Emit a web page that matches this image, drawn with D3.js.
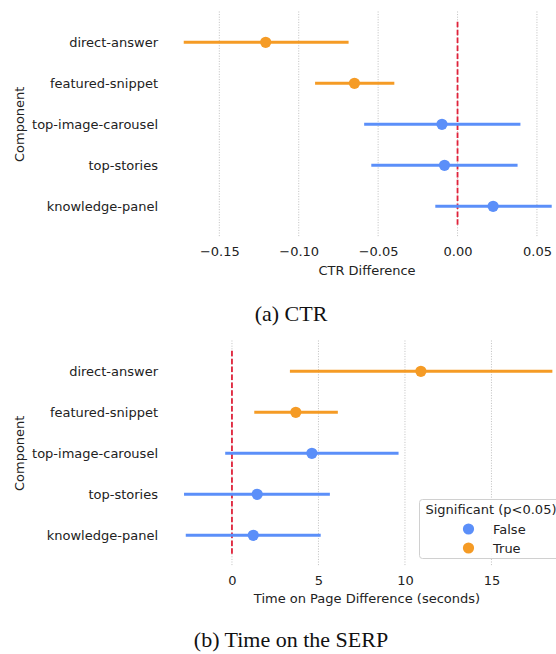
<!DOCTYPE html>
<html>
<head>
<meta charset="utf-8">
<script src="https://cdn.jsdelivr.net/npm/d3@7"></script>
<style>
  body { margin: 0; background: #fff; }
  svg { display: block; }
</style>
</head>
<body>
<svg id="chart"></svg>
<script>
// data
const components = ["direct-answer", "featured-snippet", "top-image-carousel", "top-stories", "knowledge-panel"];

const ctrEstimate = [-0.1208, -0.0649, -0.0098, -0.0082, 0.0224];
const ctrLower = [-0.1724, -0.0897, -0.0588, -0.0543, -0.0140];
const ctrUpper = [-0.0686, -0.0398, 0.0396, 0.0378, 0.0593];
const ctrSignificant = [true, true, false, false, false];
const ctrTicks = [-0.15, -0.10, -0.05, 0.00, 0.05];

const timeEstimate = [10.92, 3.69, 4.62, 1.46, 1.23];
const timeLower = [3.35, 1.29, -0.39, -2.77, -2.67];
const timeUpper = [18.52, 6.12, 9.63, 5.66, 5.13];
const timeSignificant = [true, true, false, false, false];
const timeTicks = [0, 5, 10, 15];

const legendTitle = "Significant (p<0.05)";
const legendLabels = ["False", "True"];

const width = 556;
const height = 654;
const colorFalse = "#5b8ff9";
const colorTrue = "#f59b25";
const font = "'DejaVu Sans', sans-serif";

const svg = d3.select("#chart")
    .attr("width", width)
    .attr("height", height);

const color = d3.scaleOrdinal()
    .domain(legendLabels)
    .range([colorFalse, colorTrue]);

function drawPanel(cfg) {
    const g = svg.append("g").attr("transform", `translate(0, ${cfg.top})`);

    const x = d3.scaleLinear().domain(cfg.domain).range([165, 556]);
    const y = d3.scalePoint().domain(components).range([42.3, 206.3]);
    const step = y.step();

    // dotted vertical grid
    g.append("g")
        .selectAll("line")
        .data(cfg.ticks)
        .enter()
        .append("line")
        .attr("x1", d => x(d))
        .attr("x2", d => x(d))
        .attr("y1", 11.5)
        .attr("y2", 237)
        .attr("stroke", "#b8b8b8")
        .attr("stroke-width", 0.9)
        .attr("stroke-dasharray", "1,1.6");

    // zero line
    g.append("line")
        .attr("x1", x(0))
        .attr("x2", x(0))
        .attr("y1", y(components[0]) - step / 2)
        .attr("y2", y(components[components.length - 1]) + step / 2)
        .attr("stroke", "#e0223a")
        .attr("stroke-width", 1.8)
        .attr("stroke-dasharray", "5.5,2.4");

    const rows = components.map((c, i) => ({
        name: c,
        est: cfg.est[i],
        lo: cfg.lo[i],
        hi: cfg.hi[i],
        sig: cfg.sig[i] ? "True" : "False"
    }));

    g.append("g")
        .selectAll("line")
        .data(rows)
        .enter()
        .append("line")
        .attr("x1", d => x(d.lo))
        .attr("x2", d => x(d.hi))
        .attr("y1", d => y(d.name))
        .attr("y2", d => y(d.name))
        .attr("stroke", d => color(d.sig))
        .attr("stroke-width", 3);

    g.append("g")
        .selectAll("circle")
        .data(rows)
        .enter()
        .append("circle")
        .attr("cx", d => x(d.est))
        .attr("cy", d => y(d.name))
        .attr("r", 5.6)
        .attr("fill", d => color(d.sig));

    // x axis
    const xAxis = g.append("g")
        .attr("transform", "translate(0, 244)")
        .call(d3.axisBottom(x).tickValues(cfg.ticks).tickSize(0).tickFormat(cfg.format));
    xAxis.select(".domain").remove();
    xAxis.selectAll("text")
        .attr("y", 0)
        .attr("dy", "0.95em")
        .style("font-family", font)
        .style("font-size", "13px")
        .attr("fill", "#222");

    g.append("text")
        .attr("x", cfg.labelX)
        .attr("y", cfg.top === 0 ? 274.5 : 273.5)
        .attr("text-anchor", "middle")
        .style("font-family", font)
        .style("font-size", "13px")
        .attr("fill", "#222")
        .text(cfg.xLabel);

    // y axis
    const yAxis = g.append("g")
        .attr("transform", "translate(158, 0)")
        .call(d3.axisLeft(y).tickSize(0).tickPadding(0));
    yAxis.select(".domain").remove();
    yAxis.selectAll("text")
        .style("font-family", font)
        .style("font-size", "13px")
        .attr("fill", "#222");

    g.append("text")
        .attr("transform", `translate(24, ${(y(components[0]) + y(components[4])) / 2}) rotate(-90)`)
        .attr("text-anchor", "middle")
        .style("font-family", font)
        .style("font-size", "13px")
        .attr("fill", "#222")
        .text("Component");

    // caption
    g.append("text")
        .attr("x", 291)
        .attr("y", cfg.captionY)
        .attr("text-anchor", "middle")
        .style("font-family", "'Liberation Serif', 'Times New Roman', serif")
        .style("font-size", "22px")
        .attr("fill", "#111")
        .text(cfg.caption);

    return { g, x, y };
}

drawPanel({
    top: 0,
    domain: [-0.1842, 0.0620],
    ticks: ctrTicks,
    format: d3.format(".2f"),
    est: ctrEstimate,
    lo: ctrLower,
    hi: ctrUpper,
    sig: ctrSignificant,
    xLabel: "CTR Difference",
    labelX: 367,
    caption: "(a) CTR",
    captionY: 321
});

const bottom = drawPanel({
    top: 329,
    domain: [-3.87, 18.73],
    ticks: timeTicks,
    format: d3.format("d"),
    est: timeEstimate,
    lo: timeLower,
    hi: timeUpper,
    sig: timeSignificant,
    xLabel: "Time on Page Difference (seconds)",
    labelX: 367,
    caption: "(b) Time on the SERP",
    captionY: 318
});

// legend
const legend = bottom.g.append("g").attr("transform", "translate(419.5, 170.5)");

legend.append("rect")
    .attr("width", 150)
    .attr("height", 59)
    .attr("rx", 3)
    .attr("fill", "#fff")
    .attr("fill-opacity", 0.85)
    .attr("stroke", "#d0d0d0")
    .attr("stroke-width", 1);

legend.append("text")
    .attr("x", 6)
    .attr("y", 14)
    .style("font-family", font)
    .style("font-size", "13px")
    .attr("fill", "#222")
    .text(legendTitle);

legendLabels.forEach((d, i) => {
    legend.append("circle")
        .attr("cx", 49)
        .attr("cy", 29.5 + i * 19)
        .attr("r", 5.6)
        .attr("fill", color(d));

    legend.append("text")
        .attr("x", 73.5)
        .attr("y", 34 + i * 19)
        .style("font-family", font)
        .style("font-size", "13px")
        .attr("fill", "#222")
        .text(d);
});
</script>
</body>
</html>
